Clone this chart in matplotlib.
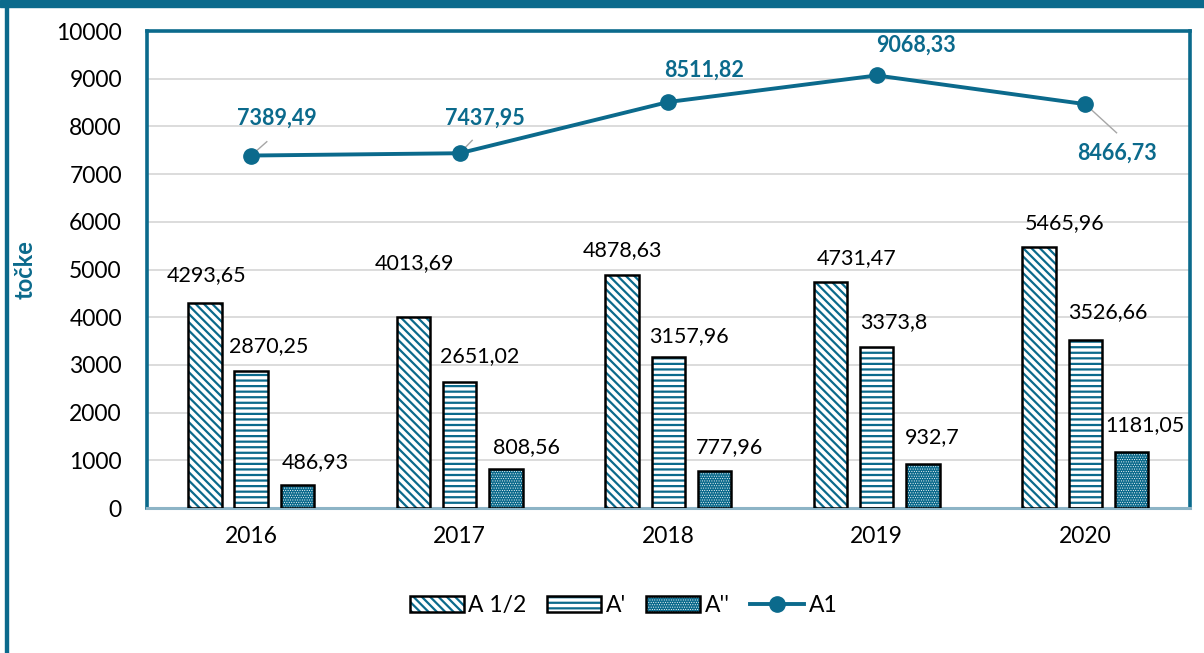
import matplotlib
matplotlib.use("Agg")
import matplotlib.pyplot as plt
import numpy as np
from matplotlib.patches import Rectangle, Patch
from matplotlib.lines import Line2D
from matplotlib.legend_handler import HandlerTuple

years = ["2016", "2017", "2018", "2019", "2020"]
a_half = [4293.65, 4013.69, 4878.63, 4731.47, 5465.96]
a_prime = [2870.25, 2651.02, 3157.96, 3373.8, 3526.66]
a_dprime = [486.93, 808.56, 777.96, 932.7, 1181.05]
a1 = [7389.49, 7437.95, 8511.82, 9068.33, 8466.73]

half_labels = ["4293,65", "4013,69", "4878,63", "4731,47", "5465,96"]
prime_labels = ["2870,25", "2651,02", "3157,96", "3373,8", "3526,66"]
dprime_labels = ["486,93", "808,56", "777,96", "932,7", "1181,05"]
a1_labels = ["7389,49", "7437,95", "8511,82", "9068,33", "8466,73"]

# label placement offsets (dx in category units, dy in value units)
half_dx = [0.01, 0.005, 0.005, 0.125, 0.125]
half_dy = [590, 1120, 530, 510, 510]
prime_dx = [0.086, 0.096, 0.10, 0.081, 0.11]
prime_dy = [525, 535, 450, 525, 580]
dprime_dx = [0.086, 0.096, 0.072, 0.043, 0.062]
dprime_dy = [480, 470, 500, 555, 560]
a1_dx = [0.125, 0.12, 0.17, 0.187, 0.15]
a1_dy = [790, 730, 660, 630, -1020]

TEAL = "#0B6A8C"
plt.rcParams['font.family'] = ['Lato', 'DejaVu Sans']

fig = plt.figure(figsize=(12.04, 6.53), dpi=100)
ax = fig.add_axes([0.122, 0.222, 0.866, 0.7305])

x = np.arange(len(years))
w = 0.16
off = 0.222

DIAG = "\\\\\\\\"
HORIZ = "---"
DOTS = "......."
HLW = {DIAG: 1.6, HORIZ: 1.6, DOTS: 0.4}

def hbar(xs, vals, face, hatchc, hatch):
    plt.rcParams['hatch.linewidth'] = HLW[hatch]
    ax.bar(xs, vals, w, color=face, edgecolor=hatchc, hatch=hatch, linewidth=0, zorder=3)
    ax.bar(xs, vals, w, fill=False, edgecolor="black", linewidth=1.8, zorder=4)

hbar(x - off, a_half, "white", TEAL, DIAG)
hbar(x, a_prime, "white", TEAL, HORIZ)
hbar(x + off, a_dprime, TEAL, "white", DOTS)

fs = 15.5
for xs, vals, labs, dxs, dys in [(x - off, a_half, half_labels, half_dx, half_dy),
                                 (x, a_prime, prime_labels, prime_dx, prime_dy),
                                 (x + off, a_dprime, dprime_labels, dprime_dx, dprime_dy)]:
    for xi, v, l, dx, dy in zip(xs, vals, labs, dxs, dys):
        ax.text(xi + dx, v + dy, l, ha="center", va="center", fontsize=fs, color="black", zorder=6)

ax.plot(x, a1, color=TEAL, linewidth=2.8, marker="o", markersize=11, zorder=7)

for i in range(len(years)):
    ax.text(x[i] + a1_dx[i], a1[i] + a1_dy[i], a1_labels[i], ha="center", va="center",
            fontsize=fs, fontweight="bold", color=TEAL, zorder=8)
# leader lines
ax.plot([x[0], x[0] + 0.075], [a1[0], a1[0] + 290], color="#a6a6a6", linewidth=1, zorder=6)
ax.plot([x[1], x[1] + 0.06], [a1[1], a1[1] + 270], color="#a6a6a6", linewidth=1, zorder=6)
ax.plot([x[4], x[4] + 0.15], [a1[4], a1[4] - 600], color="#a6a6a6", linewidth=1, zorder=6)

ax.set_xlim(-0.5, 4.5)
ax.set_ylim(0, 10000)
ax.set_yticks(np.arange(0, 10001, 1000))
ax.set_xticks(x)
ax.set_xticklabels(years)
ax.tick_params(axis="both", length=0, labelsize=16.5)
ax.tick_params(axis="x", pad=13)
ax.tick_params(axis="y", pad=18)
ax.grid(axis="y", color="#d9d9d9", linewidth=1.3, zorder=0)
ax.set_axisbelow(True)
for s in ["left", "top", "right"]:
    ax.spines[s].set_color(TEAL)
    ax.spines[s].set_linewidth(2.6)
ax.spines["bottom"].set_color("#8db4c6")
ax.spines["bottom"].set_linewidth(2.2)

ax.set_ylabel("točke", fontsize=17, fontweight="bold", color=TEAL, labelpad=14)

def patch_handle(face, hc, hatch):
    p = Patch(facecolor=face, edgecolor=hc, hatch=hatch, linewidth=0)
    o = Patch(fill=False, edgecolor="black", linewidth=1.8)
    return (p, o)

handles = [
    patch_handle("white", TEAL, DIAG),
    patch_handle("white", TEAL, HORIZ),
    patch_handle(TEAL, "white", DOTS),
    Line2D([0], [0], color=TEAL, linewidth=2.8, marker="o", markersize=11),
]
labels = ["A 1/2", "A'", "A''", "A1"]
leg = fig.legend(handles=handles, labels=labels, loc="center", bbox_to_anchor=(0.518, 0.072), ncol=4,
                 frameon=False, fontsize=16.5, handlelength=2.35, handletextpad=0.2,
                 columnspacing=0.9, handler_map={tuple: HandlerTuple(ndivide=1)})
for p in leg.get_patches():
    h = p.get_hatch()
    if h in HLW:
        if hasattr(p, "set_hatch_linewidth"):
            p.set_hatch_linewidth(HLW[h])
        else:
            p._hatch_linewidth = HLW[h]

# figure border
fig.add_artist(Rectangle((0, 1 - 7 / 653), 1, 7 / 653, transform=fig.transFigure,
                         color=TEAL, zorder=10))
fig.add_artist(Rectangle((5 / 1204, 0), 3 / 1204, 1, transform=fig.transFigure,
                         color=TEAL, zorder=10))

fig.savefig("out.png", dpi=100)
